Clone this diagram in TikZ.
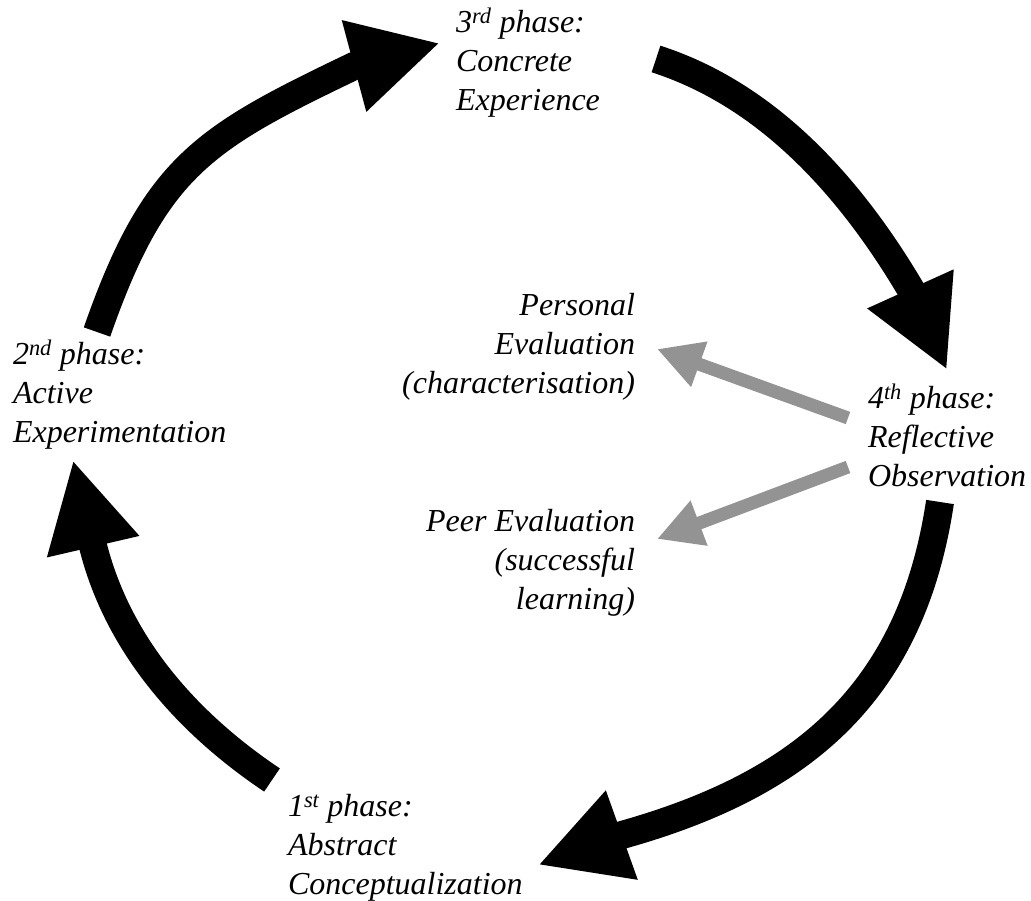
\documentclass[tikz,border=0pt]{standalone}
\usepackage{fontspec}
\setmainfont{Liberation Serif}
\usetikzlibrary{arrows.meta}
\definecolor{evalgray}{RGB}{147,147,147}
\begin{document}
\begin{tikzpicture}[x=1pt,y=-1pt,
  phase/.style={inner sep=0pt, outer sep=0pt, font=\fontsize{32}{38.7}\selectfont\itshape},
  cyclearrow/.style={draw=black, line width=28pt, -{Triangle[length=89pt,width=88pt]}},
  evalarrow/.style={color=evalgray, line width=13pt, -{Triangle[length=45pt,width=45pt]}}
]
\useasboundingbox (0,0) rectangle (1031,901);

% phase labels (top = first baseline - 27.09)
\node[phase, anchor=north west, align=left] (p3) at (456,5.9)
  {\strut 3\textsuperscript{rd} phase:\\\strut Concrete\\\strut Experience};
\node[phase, anchor=north west, align=left] (p2) at (13,337.9)
  {\strut 2\textsuperscript{nd} phase:\\\strut Active\\\strut Experimentation};
\node[phase, anchor=north west, align=left] (p4) at (868,381.9)
  {\strut 4\textsuperscript{th} phase:\\\strut Reflective\\\strut Observation};
\node[phase, anchor=north west, align=left] (p1) at (288,789.9)
  {\strut 1\textsuperscript{st} phase:\\\strut Abstract\\\strut Conceptualization};
\node[phase, anchor=north east, align=right] (pe) at (635,288.9)
  {\strut Personal\\\strut Evaluation\\\strut (characterisation)};
\node[phase, anchor=north east, align=right] (pr) at (635,504.9)
  {\strut Peer Evaluation\\\strut (successful\\\strut learning)};

% cycle arrow end points
\coordinate (a1s) at (97,332);  \coordinate (a1b) at (354,66);  \coordinate (a1t) at (440,43);
\coordinate (a2s) at (656,59);  \coordinate (a2b) at (910,288); \coordinate (a2t) at (947,370);
\coordinate (a3s) at (940,502); \coordinate (a3b) at (622,835); \coordinate (a3t) at (538,865);
\coordinate (a4s) at (272,780); \coordinate (a4b) at (93,546);  \coordinate (a4t) at (73,460);

\draw[cyclearrow] (a1s) .. controls +(58,-166) and +(-150,72) .. (a1b) -- (a1t);
\draw[cyclearrow] (a2s) .. controls +(112,36) and +(-60,-101) .. (a2b) -- (a2t);
\draw[cyclearrow] (a3s) .. controls +(-29,193) and +(178,-50) .. (a3b) -- (a3t);
\draw[cyclearrow] (a4s) .. controls +(-85,-57) and +(25,99) .. (a4b) -- (a4t);

% evaluation arrows
\coordinate (g1s) at (848,418); \coordinate (g1t) at (657,349);
\coordinate (g2s) at (848,467); \coordinate (g2t) at (657,539);
\draw[evalarrow] (g1s) -- (g1t);
\draw[evalarrow] (g2s) -- (g2t);
\end{tikzpicture}
\end{document}
